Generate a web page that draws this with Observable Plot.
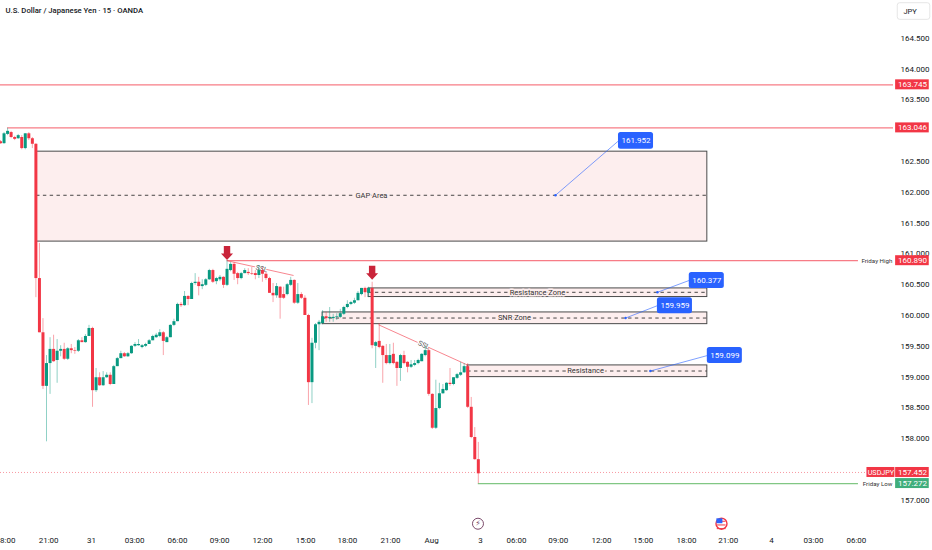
<!DOCTYPE html>
<html><head><meta charset="utf-8">
<script src="https://cdn.jsdelivr.net/npm/d3@7"></script>
<script src="https://cdn.jsdelivr.net/npm/@observablehq/plot@0.6"></script>
<style>html,body{margin:0;padding:0;background:#fff;overflow:hidden}svg{display:block}</style>
</head><body><div id="chart"></div>
<script>
const opens=[162.82,162.79,162.94,162.97,162.89,162.87,162.89,162.71,162.95,162.87,162.78,160.60,159.72,158.85,159.22,159.45,159.27,159.42,159.45,159.29,159.46,159.43,159.42,159.59,159.56,159.66,159.79,158.78,158.99,158.86,158.99,159.03,158.88,159.17,159.30,159.38,159.33,159.38,159.50,159.51,159.48,159.50,159.53,159.59,159.64,159.66,159.72,159.56,159.64,159.84,159.90,160.18,160.16,160.31,160.26,160.52,160.54,160.47,160.49,160.58,160.73,160.55,160.58,160.62,160.49,160.73,160.83,160.68,160.60,160.68,160.70,160.68,160.68,160.65,160.73,160.67,160.60,160.36,160.32,160.46,160.34,160.34,160.49,160.57,160.20,160.34,160.28,160.00,158.91,159.55,159.85,159.87,159.98,159.95,159.95,159.97,159.97,160.02,160.13,160.18,160.20,160.24,160.34,160.44,160.36,160.44,159.50,159.58,159.50,159.35,159.22,159.37,159.24,159.14,159.35,159.24,159.16,159.19,159.22,159.25,159.35,159.43,158.72,158.17,158.49,158.73,158.78,158.90,158.88,158.98,159.03,159.07,159.17,158.51,158.02,157.66];
const closes=[162.79,162.95,162.99,162.89,162.86,162.92,162.71,162.95,162.87,162.78,160.60,159.72,158.85,159.22,159.45,159.25,159.42,159.45,159.29,159.46,159.43,159.42,159.59,159.56,159.66,159.79,158.78,158.99,158.86,158.99,159.03,158.88,159.17,159.30,159.38,159.33,159.38,159.50,159.53,159.53,159.51,159.53,159.59,159.66,159.68,159.72,159.58,159.64,159.84,159.90,160.18,160.16,160.31,160.26,160.52,160.54,160.47,160.50,160.58,160.73,160.54,160.60,160.62,160.49,160.75,160.83,160.67,160.60,160.68,160.73,160.68,160.67,160.65,160.73,160.67,160.60,160.36,160.32,160.47,160.28,160.28,160.50,160.57,160.20,160.34,160.28,160.00,158.91,159.55,159.85,159.89,159.98,159.95,159.97,159.97,159.98,160.03,160.13,160.18,160.21,160.24,160.36,160.44,160.37,160.44,159.51,159.56,159.48,159.35,159.22,159.35,159.22,159.14,159.35,159.22,159.16,159.20,159.22,159.27,159.37,159.43,158.72,158.17,158.49,158.73,158.80,158.90,158.88,158.99,159.04,159.07,159.17,158.51,158.02,157.66,157.43];
const highs=[162.84,162.97,163.04,162.99,162.91,162.94,162.92,162.95,162.97,162.89,162.79,161.17,159.95,159.35,159.64,159.68,159.61,159.51,159.55,159.48,159.53,159.48,159.61,159.64,159.69,159.84,159.81,159.14,159.07,159.09,159.07,159.07,159.19,159.32,159.42,159.40,159.40,159.51,159.56,159.61,159.53,159.55,159.61,159.68,159.71,159.77,159.74,159.66,159.85,159.94,160.20,160.21,160.39,160.32,160.54,160.68,160.62,160.58,160.60,160.75,160.75,160.62,160.65,160.63,160.89,160.86,160.86,160.70,160.70,160.76,160.76,160.78,160.73,160.81,160.78,160.70,160.62,160.52,160.52,160.47,160.46,160.52,160.62,160.58,160.52,160.37,160.32,160.02,159.63,159.87,159.92,160.08,160.05,160.13,160.02,160.03,160.10,160.15,160.24,160.23,160.28,160.39,160.44,160.46,160.46,160.54,159.58,159.87,159.51,159.53,159.53,159.55,159.25,159.37,159.42,159.25,159.27,159.27,159.29,159.38,159.50,159.48,158.73,158.95,158.90,158.88,158.91,159.14,158.99,159.06,159.24,159.22,159.22,158.67,158.18,157.94];
const lows=[162.78,162.78,162.92,162.87,162.84,162.86,162.69,162.69,162.84,162.71,160.29,159.72,158.80,157.95,158.72,159.24,158.90,159.33,159.27,159.27,159.38,159.37,159.40,159.56,159.55,159.66,158.51,158.75,158.85,158.85,158.98,158.86,158.88,159.17,159.30,159.32,159.32,159.37,159.48,159.50,159.46,159.48,159.53,159.59,159.63,159.64,159.35,159.56,159.64,159.82,159.90,160.13,160.15,160.16,160.26,160.49,160.32,160.42,160.47,160.57,160.52,160.50,160.55,160.44,160.47,160.71,160.57,160.50,160.58,160.68,160.65,160.65,160.58,160.60,160.54,160.57,160.36,160.21,160.28,159.94,160.26,160.32,160.47,160.18,160.18,160.26,160.00,158.54,158.57,159.46,159.43,159.85,159.89,159.89,159.89,159.92,159.95,160.00,160.11,160.16,160.18,160.24,160.32,160.29,160.29,159.46,159.14,159.46,158.90,159.20,159.20,159.20,158.85,158.93,159.20,159.07,159.14,159.17,159.20,159.25,159.33,158.69,158.15,158.15,158.47,158.72,158.77,158.85,158.86,158.96,159.01,159.06,158.49,158.00,157.65,157.27];

const xTickPos=[1.4,13.6,25.7,37.9,50,61.9,74,86.2,98,110.2,121.8,135.6,145.8,157.6,169.8,181.6,193.8,205.6,217.8,229.7,241.8];
const xTickLabels=["18:00","21:00","31","03:00","06:00","09:00","12:00","15:00","18:00","21:00","Aug","3","06:00","09:00","12:00","15:00","18:00","21:00","4","03:00","06:00"];
const yTicks=[164.5,164,163.5,162.5,162,161.5,161,160.5,160,159.5,159,158.5,158,157];

const levelNames=["upper","swing","fridayHigh"];
const levelPrices=[163.745,163.046,160.890];
const levelStarts=[0,2,64];
const levelEnds=[252.3,252.3,242.4];

const zoneNames=["GAP Area","Resistance Zone","SNR Zone","Resistance"];
const zoneTop=[162.66,160.44,160.05,159.19];
const zoneBottom=[161.20,160.30,159.86,159.00];
const zoneMid=[161.952,160.377,159.959,159.099];
const zoneStart=[10.2,104,91,132];
const zoneEnd=[199.7,199.7,199.7,199.7];
const zoneLabelAt=[104.8,151.7,145.2,165.3];

const calloutTexts=["161.952","160.377","159.959","159.099"];
const calloutPrices=[161.952,160.377,159.959,159.099];
const calloutDotX=[156.8,185.6,176.6,183.6];
const calloutLeft=[174.6,194.6,185.6,199.7];
const calloutRight=[184.5,204.5,195.5,209.6];
const calloutTop=[162.97,160.70,160.29,159.48];
const calloutBottom=[162.70,160.44,160.03,159.22];

const sslX1=[64,106.8], sslP1=[160.89,159.85], sslX2=[82.8,132.2], sslP2=[160.65,159.19];
const sslLabelX=[73.8,119.6], sslLabelP=[160.76,159.52], sslAngle=[14,24];
const arrowBars=[64,105], arrowPrices=[160.90,160.58];

const priceBadgeTexts=["163.745","163.046","160.890","157.452","157.272"];
const priceBadgeValues=[163.745,163.046,160.890,157.452,157.272];
const priceBadgeColors=["#f23645","#f23645","#f23645","#f23645","#3fae7c"];
const FONT="Roboto, sans-serif";
const RED="#f23645",GREEN="#089981",BLUE="#2962ff",X0=252.9,X1=262.4,H=0.081;

const candles=opens.map((o,i)=>({i,open:o,close:closes[i],high:highs[i],low:lows[i]}));
const zones=zoneNames.map((name,i)=>({name,top:zoneTop[i],bottom:zoneBottom[i],mid:zoneMid[i],x1:zoneStart[i],x2:zoneEnd[i],lx:zoneLabelAt[i]}));
const callouts=calloutTexts.map((text,i)=>({text,p:calloutPrices[i],dx:calloutDotX[i],l:calloutLeft[i],r:calloutRight[i],t:calloutTop[i],b:calloutBottom[i]}));
const levels=levelNames.map((n,i)=>({p:levelPrices[i],a:levelStarts[i],b:levelEnds[i]}));
const badges=priceBadgeTexts.map((t,i)=>({t,p:priceBadgeValues[i],c:priceBadgeColors[i]}));
const ssl=sslX1.map((x,i)=>({x1:x,y1:sslP1[i],x2:sslX2[i],y2:sslP2[i],lx:sslLabelX[i],lp:sslLabelP[i],a:sslAngle[i]}));
const arrows=arrowBars.map((b,i)=>({b,p:arrowPrices[i]}));

const downArrow={draw(c,l,r){ // tip at the data point, shaft above it
  c.moveTo(0,0);c.lineTo(6,-6.5);c.lineTo(3.2,-6.5);c.lineTo(3.2,-14);c.lineTo(-3.2,-14);c.lineTo(-3.2,-6.5);c.lineTo(-6,-6.5);c.closePath();
}};
const isUp=d=>d.close>=d.open, isDown=d=>d.close<d.open;

const chart=Plot.plot({
  width:932,height:550,marginLeft:0,marginRight:39,marginTop:0,marginBottom:24,
  style:{fontFamily:FONT,background:"#fff",overflow:"hidden"},
  x:{domain:[0,252.3],axis:null},
  y:{domain:[156.575,165.114],axis:null},
  marks:[
    Plot.axisY({anchor:"right",ticks:yTicks,tickSize:0,tickPadding:7,fontSize:8,tickFormat:d=>d.toFixed(3),label:null,fill:"#131722"}),
    Plot.axisX({anchor:"bottom",ticks:xTickPos,tickSize:0,tickPadding:11,fontSize:8,tickFormat:d=>xTickLabels[xTickPos.indexOf(d)],label:null,fill:"#131722"}),
    // zones
    Plot.rect(zones,{x1:"x1",x2:"x2",y1:"bottom",y2:"top",fill:"#fdeeee",stroke:"#4a4a4a",strokeWidth:1}),
    Plot.ruleY(zones,{y:"mid",x1:"x1",x2:"x2",stroke:"#333",strokeWidth:0.9,strokeDasharray:"3.4,3.4"}),
    Plot.text(zones,{x:"lx",y:"mid",text:"name",fontSize:7.5,fill:"#333",stroke:"#fdeeee",strokeWidth:3,paintOrder:"stroke"}),
    // levels
    Plot.ruleY(levels,{y:"p",x1:"a",x2:"b",stroke:RED,strokeOpacity:0.65,strokeWidth:1.2}),
    Plot.ruleY([priceBadgeValues[3]],{x1:0,x2:244.8,stroke:RED,strokeOpacity:0.5,strokeWidth:1,strokeDasharray:"1,2"}),
    Plot.ruleY([priceBadgeValues[4]],{x1:135,x2:242.4,stroke:"#4caf50",strokeOpacity:0.7,strokeWidth:1.2}),
    // trend lines
    Plot.link(ssl,{x1:"x1",y1:"y1",x2:"x2",y2:"y2",stroke:RED,strokeOpacity:0.6,strokeWidth:1}),
    Plot.text(ssl,{x:"lx",y:"lp",text:()=>"SSL",rotate:"a",fontSize:7,fill:"#555",stroke:"#fff",strokeWidth:2.5,paintOrder:"stroke"}),
    // candles
    Plot.ruleX(candles.filter(isUp),{x:"i",y1:"low",y2:"high",stroke:GREEN,strokeOpacity:0.45,strokeWidth:1}),
    Plot.ruleX(candles.filter(isDown),{x:"i",y1:"low",y2:"high",stroke:RED,strokeOpacity:0.45,strokeWidth:1}),
    Plot.ruleX(candles.filter(isUp),{x:"i",y1:"open",y2:"close",stroke:GREEN,strokeWidth:3}),
    Plot.ruleX(candles.filter(isDown),{x:"i",y1:"open",y2:"close",stroke:RED,strokeWidth:3}),
    // arrows
    Plot.vector(arrows,{x:"b",y:"p",length:1,anchor:"start",shape:downArrow,fill:"#c9243a",stroke:"none"}),
    // callouts
    Plot.link(callouts,{x1:"dx",y1:"p",x2:d=>d.l,y2:d=>(d.t+d.b)/2,stroke:BLUE,strokeOpacity:0.6,strokeWidth:1}),
    Plot.dot(callouts,{x:"dx",y:"p",r:1.2,fill:BLUE}),
    Plot.rect(callouts,{x1:"l",x2:"r",y1:"b",y2:"t",fill:BLUE,rx:2.5}),
    Plot.text(callouts,{x:d=>(d.l+d.r)/2,y:d=>(d.t+d.b)/2,text:"text",fill:"#fff",fontSize:8}),
    // side labels
    Plot.text(["Friday High"],{x:252,y:priceBadgeValues[2],text:d=>d,textAnchor:"end",fontSize:6.2,fill:"#333"}),
    Plot.text(["Friday Low"],{x:252,y:priceBadgeValues[4],text:d=>d,textAnchor:"end",fontSize:6.2,fill:"#333"}),
    // price badges
    Plot.rect(badges,{x1:X0,x2:X1,y1:d=>d.p-H,y2:d=>d.p+H,fill:"c"}),
    Plot.text(badges,{x:(X0+X1)/2,y:"p",text:"t",fill:"#fff",fontSize:8}),
    Plot.rect(["USDJPY"],{x1:244.8,x2:252.7,y1:priceBadgeValues[3]-H,y2:priceBadgeValues[3]+H,fill:RED}),
    Plot.text(["USDJPY"],{x:248.75,y:priceBadgeValues[3],text:d=>d,fill:"#fff",fontSize:7.2}),
    // currency box
    Plot.rect(["JPY"],{x1:253.5,x2:262.7,y1:164.80,y2:165.07,fill:"#fff",stroke:"#e6e6e6",rx:2.5}),
    Plot.text(["JPY"],{x:255.1,y:164.93,text:d=>d,textAnchor:"start",fontSize:7.5,fill:"#131722"}),
    // title
    Plot.text(["U.S. Dollar / Japanese Yen · 15 · OANDA"],{frameAnchor:"top-left",dx:5,dy:7,text:d=>d,textAnchor:"start",fontSize:7.7,fontWeight:500,fill:"#131722"}),
    // event icons
    Plot.dot([134.9],{x:d=>d,y:156.62,r:5.5,fill:"#fff",stroke:"#7b4a6a",strokeWidth:1}),
    Plot.text(["⚡"],{x:134.9,y:156.62,text:d=>d,fontSize:8,fill:"#7b4a6a",fontFamily:"DejaVu Sans"}),
    Plot.dot([203.7],{x:d=>d,y:156.62,r:5.5,fill:"#fff",stroke:RED,strokeWidth:1.4}),
    Plot.ruleY([156.66,156.6,156.54],{x1:202.5,x2:205,stroke:RED,strokeWidth:1}),
    Plot.rect([0],{x1:202.4,x2:204.1,y1:156.62,y2:156.7,fill:BLUE})
  ]
});
document.getElementById("chart").append(chart);
</script></body></html>
